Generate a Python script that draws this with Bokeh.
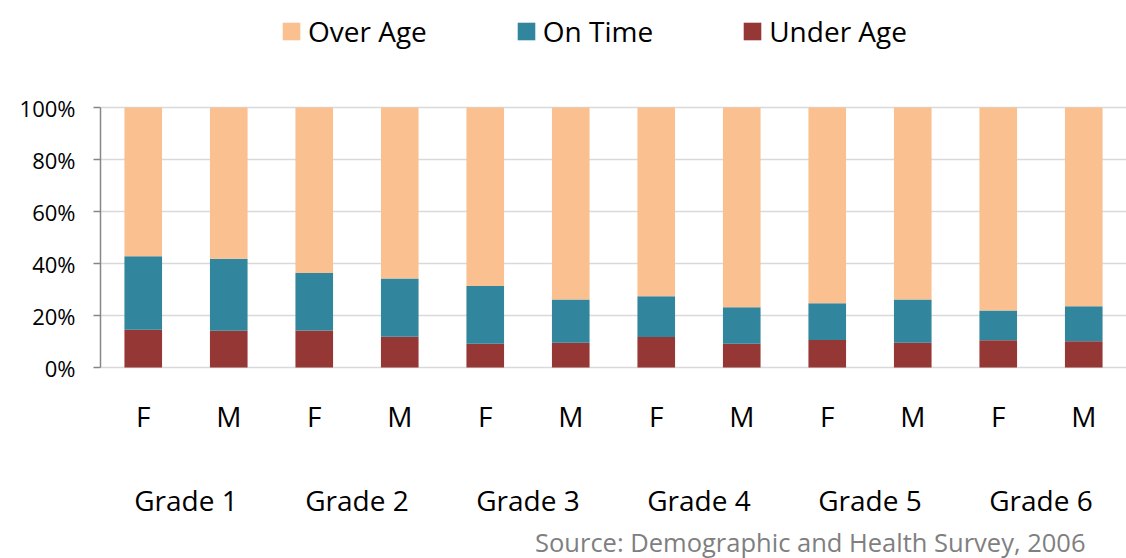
from bokeh.plotting import figure
from bokeh.models import FactorRange, Legend, LegendItem, Label, NumeralTickFormatter, FixedTicker
from bokeh.core.properties import value
from bokeh.embed import file_html
from bokeh.resources import INLINE

grades = ["Grade 1", "Grade 2", "Grade 3", "Grade 4", "Grade 5", "Grade 6"]
sexes = ["F", "M"]
under_age = [14.5, 14.1, 14.2, 11.8, 9.1, 9.5, 11.7, 9.1, 10.6, 9.5, 10.5, 10.1]
on_time = [28.3, 27.7, 22.1, 22.4, 22.2, 16.7, 15.7, 14.1, 14.1, 16.7, 11.4, 13.5]
over_age = [round(100 - u - o, 1) for u, o in zip(under_age, on_time)]
y_ticks = [0, 20, 40, 60, 80, 100]
source_note = "Source: Demographic and Health Survey, 2006"

cats = [(g, s) for g in grades for s in sexes]
data = dict(cat=cats,
            under=[v / 100 for v in under_age],
            ontime=[v / 100 for v in on_time],
            over=[v / 100 for v in over_age])

FONT = "Open Sans"
W, H = 1126, 558
LEFT = 100
PX = 260.0          # pixels for 0..100%
ZERO_Y = 367        # pixel row of 0%
TXT_SHIFT = 12      # svg text baseline correction
y0 = -(H - ZERO_Y) / PX
y1 = ZERO_Y / PX

p = figure(width=W, height=H,
           x_range=FactorRange(*cats, range_padding=0, group_padding=0, factor_padding=0),
           y_range=(y0, y1), output_backend="svg", toolbar_location=None,
           min_border_left=LEFT, min_border_right=0, min_border_top=0,
           min_border_bottom=0, outline_line_color=None, x_axis_location=None)

rs = p.vbar_stack(["under", "ontime", "over"], x="cat", width=0.44, source=data,
                  color=["#953735", "#31859C", "#FAC090"], line_color=None)

p.xgrid.grid_line_color = None
p.ygrid.grid_line_color = "#d9d9d9"
p.ygrid.grid_line_width = 1.5
p.ygrid.ticker = FixedTicker(ticks=[t / 100 for t in y_ticks])

ya = p.yaxis[0]
ya.ticker = FixedTicker(ticks=[t / 100 for t in y_ticks])
ya.bounds = (0, 1)
ya.formatter = NumeralTickFormatter(format="0%")
ya.axis_line_color = "#868686"
ya.axis_line_width = 1.5
ya.major_tick_line_color = "#868686"
ya.major_tick_line_width = 1.5
ya.major_tick_out = 7
ya.major_tick_in = 0
ya.minor_tick_line_color = None
ya.major_label_text_font = FONT
ya.major_label_text_font_size = "22px"
ya.major_label_text_color = "#000000"
ya.major_label_standoff = 18

# category labels (F / M) and group labels (Grade n)
sex_y = (ZERO_Y - 427 + TXT_SHIFT) / PX
grade_y = (ZERO_Y - 511 + TXT_SHIFT) / PX
p.text(x=cats, y=[sex_y] * len(cats), text=[c[1] for c in cats],
       text_font=value(FONT), text_font_size=value("28px"), text_color="#000000",
       text_align="center", text_baseline="alphabetic")
p.text(x=grades, y=[grade_y] * len(grades), text=grades,
       text_font=value(FONT), text_font_size=value("28px"), text_color="#000000",
       text_align="center", text_baseline="alphabetic")

legend = Legend(items=[LegendItem(label="Over Age", renderers=[rs[2]]),
                       LegendItem(label="On Time", renderers=[rs[1]]),
                       LegendItem(label="Under Age", renderers=[rs[0]])],
                orientation="horizontal", location=(180, H - 50),
                glyph_width=22, glyph_height=22, label_standoff=6, spacing=88,
                padding=0, margin=0, border_line_color=None,
                background_fill_alpha=0, label_text_font=FONT,
                label_text_font_size="28px", label_text_color="#000000",
                label_text_baseline="middle")
p.add_layout(legend, "center")

src = Label(x=1085 - LEFT, y=H - 553 + TXT_SHIFT, x_units="screen", y_units="screen",
            text=source_note, text_align="right", text_baseline="alphabetic",
            text_font=FONT, text_font_size="25.5px", text_color="#7f7f7f")
p.add_layout(src)

open("out.html", "w").write(file_html(p, INLINE))
